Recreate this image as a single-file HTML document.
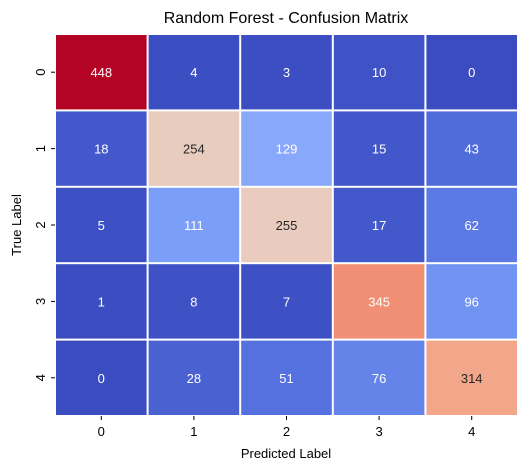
<!DOCTYPE html>
<html><head><meta charset="utf-8"><style>
body{margin:0;background:#fff;font-family:"Liberation Sans","DejaVu Sans",sans-serif}
</style></head><body>
<svg id="chart" width="528" height="470" xmlns="http://www.w3.org/2000/svg">
<text x="286" y="23" font-size="16" text-anchor="middle" fill="#000">Random Forest - Confusion Matrix</text>
<g id="cells"></g>
<g id="ticks"></g>
<text x="286" y="458" font-size="13" text-anchor="middle">Predicted Label</text>
<text transform="translate(21,225) rotate(-90)" font-size="13" text-anchor="middle">True Label</text>
</svg>
<script>
const classes = ["0","1","2","3","4"];
const matrix = [
 [448,4,3,10,0],
 [18,254,129,15,43],
 [5,111,255,17,62],
 [1,8,7,345,96],
 [0,28,51,76,314]
];
const vmin = 0, vmax = 448;
const L=55,T=34,W=463,H=382;
const cw=W/classes.length, ch=H/classes.length;
const xs=i=>L+i*cw, ys=j=>T+j*ch;
const stops=[[0,[58,76,192]],[0.125,[87,117,226]],[0.25,[124,159,249]],[0.375,[162,192,254]],[0.5,[221,221,221]],[0.625,[242,190,163]],[0.75,[244,152,122]],[0.875,[222,96,76]],[1,[180,4,38]]];
function cmap(t){t=Math.max(0,Math.min(1,t));for(let k=1;k<stops.length;k++){if(t<=stops[k][0]){const a=stops[k-1],b=stops[k];const f=(t-a[0])/(b[0]-a[0]);return a[1].map((v,i)=>Math.round(v+(b[1][i]-v)*f));}}return stops[stops.length-1][1];}
function lum(c){const l=c.map(v=>{v/=255;return v<=0.03928?v/12.92:Math.pow((v+0.055)/1.055,2.4)});return 0.2126*l[0]+0.7152*l[1]+0.0722*l[2];}
const NS="http://www.w3.org/2000/svg";
const cells=document.getElementById('cells'), ticks=document.getElementById('ticks');
matrix.forEach((row,j)=>row.forEach((v,i)=>{
 const c=cmap((v-vmin)/(vmax-vmin));
 const r=document.createElementNS(NS,'rect');
 r.setAttribute('x',xs(i)+1);r.setAttribute('y',ys(j)+1);r.setAttribute('width',cw-2);r.setAttribute('height',ch-2);
 r.setAttribute('fill',`rgb(${c[0]},${c[1]},${c[2]})`);
 
 
 cells.appendChild(r);
 const t=document.createElementNS(NS,'text');
 t.setAttribute('x',xs(i)+cw/2);t.setAttribute('y',ys(j)+ch/2+5);t.setAttribute('font-size','13');t.setAttribute('text-anchor','middle');
 t.setAttribute('fill',lum(c)>0.408?'#262626':'#fff');
 t.textContent=v;
 
 
 cells.appendChild(t);
}));
classes.forEach((lab,i)=>{
 const cx=xs(i)+cw/2;
 const tk=document.createElementNS(NS,'line');
 tk.setAttribute('x1',cx);tk.setAttribute('x2',cx);tk.setAttribute('y1',T+H);tk.setAttribute('y2',T+H+4);tk.setAttribute('stroke','#000');
 
 
 ticks.appendChild(tk);
 const t=document.createElementNS(NS,'text');
 t.setAttribute('x',cx);t.setAttribute('y',T+H+20);t.setAttribute('font-size','13');t.setAttribute('text-anchor','middle');t.textContent=lab;
 
 
 ticks.appendChild(t);
 const cy=ys(i)+ch/2;
 const tk2=document.createElementNS(NS,'line');
 tk2.setAttribute('x1',L-4);tk2.setAttribute('x2',L);tk2.setAttribute('y1',cy);tk2.setAttribute('y2',cy);tk2.setAttribute('stroke','#000');
 
 
 ticks.appendChild(tk2);
 const t2=document.createElementNS(NS,'text');
 t2.setAttribute('transform',`translate(${L-10},${cy}) rotate(-90)`);t2.setAttribute('font-size','13');t2.setAttribute('text-anchor','middle');t2.textContent=lab;
 
 
 ticks.appendChild(t2);
});
</script>
</body></html>
